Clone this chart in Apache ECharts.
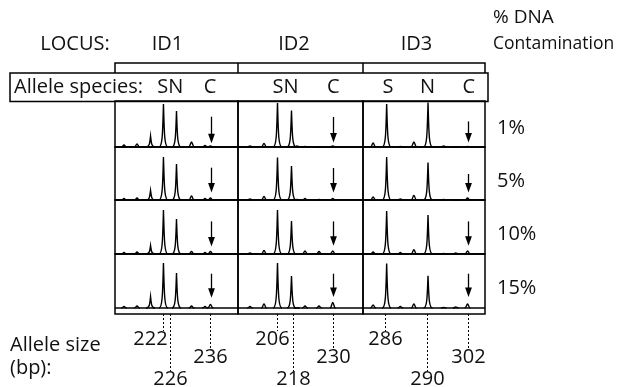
<!DOCTYPE html>
<html>
<head>
<meta charset="utf-8">
<title>Allele species vs DNA contamination</title>
<script src="https://cdn.jsdelivr.net/npm/echarts@6/dist/echarts.min.js"></script>
<style>
html,body{margin:0;padding:0;background:#fff;}
#main{width:619px;height:387px;}
</style>
</head>
<body>
<div id="main"></div>
<script>
var loci = ['ID1', 'ID2', 'ID3'];
var contamination = ['1%', '5%', '10%', '15%'];
var speciesLabels = [['SN', 'C'], ['SN', 'C'], ['S', 'N', 'C']];
var speciesPos = [[45, 77.2], [38, 76.2], [20.4, 52.9, 86.8]];

// peak positions along the run window (0-100) and heights for 1/5/10/15 %
var id1Pos = [7.3, 17.9, 28.9, 39.4, 50.0, 62.2, 73.2, 77.6];
var id1Height = [
  [2, 3, 11, 43, 36, 5, 1.5, 1],
  [1.5, 2, 9.5, 43, 36, 4, 1.5, 2],
  [1.5, 2, 8.5, 44, 35, 2.5, 1.5, 2.5],
  [1.5, 2, 11.5, 45, 35, 2, 1.5, 3.5]
];
var id2Pos = [9.6, 20.8, 31.6, 42.8, 47.2, 53.6, 64.8, 75.8];
var id2Height = [
  [1, 3.5, 44, 36.5, 1, 0.5, 0, 1],
  [1, 3.5, 42.5, 34, 0.5, 1.5, 0.5, 1.5],
  [1, 3.5, 44, 33, 0, 3, 2.5, 3],
  [1.5, 4, 45, 32, 0, 2, 2, 5.5]
];
var id3Pos = [8.3, 19.4, 30.6, 41.7, 53.3, 66.1, 76.0, 85.7];
var id3Height = [
  [4, 43, 0.5, 5, 44.5, 1, 0, 0.5],
  [3, 43, 1, 4.5, 37.5, 0.5, 0, 2],
  [2, 43, 1.5, 4.3, 39, 0.5, 1, 3],
  [3, 44.5, 1.5, 4, 32.3, 0.5, 1, 4]
];

// contamination allele arrows (top and tip heights)
var arrowPos = [78.0, 75.8, 85.7];
var arrowTop = [[30.3, 32.3, 32.6, 34.3], [30, 32, 32.6, 34.3], [25.6, 26, 32.6, 34.3]];
var arrowTip = [[3.7, 7.6, 7.6, 10.3], [4.6, 7.6, 8.3, 11], [4.6, 7.6, 8.3, 11]];

// allele sizes (bp) and where they sit in the window
var alleleSizes = [[222, 226, 236], [206, 218, 230], [286, 290, 302]];
var allelePos = [[39.0, 45.1, 77.6], [31.2, 43.6, 75.8], [18.2, 52.6, 85.7]];

var allPos = [id1Pos, id2Pos, id3Pos];
var allHeight = [id1Height, id2Height, id3Height];

// layout
var colLeft = [115, 238, 363], colWidth = [123, 125, 122];
var rowTop = [101, 147, 200, 254], rowHeight = [46, 53, 54, 60];
var rowFloor = [0, 0, 0, -6];
var labelRow = [0, 2, 1];
var labelDx = [[-13, 0, 0], [-5, 0, 0], [0, 0, 0]];
var FONT = '20px "Open Sans"';

function renderPeak(params, api) {
  var b = api.coord([api.value(0), 0]);
  var t = api.coord([api.value(0), api.value(1)]);
  var hp = b[1] - t[1];
  var x = b[0], y0 = b[1], y1 = t[1], d;
  if (hp > 8) {
    var w = 4.5;
    d = 'M' + (x - w) + ' ' + y0 +
      ' C' + (x - w * 0.2) + ' ' + y0 + ' ' + (x - 0.8) + ' ' + (y0 - hp * 0.35) + ' ' + x + ' ' + y1 +
      ' C' + (x + 0.8) + ' ' + (y0 - hp * 0.35) + ' ' + (x + w * 0.2) + ' ' + y0 + ' ' + (x + w) + ' ' + y0;
  } else {
    var s = 2.8;
    d = 'M' + (x - s) + ' ' + y0 +
      ' C' + (x - 1.2) + ' ' + y0 + ' ' + (x - 1) + ' ' + y1 + ' ' + x + ' ' + y1 +
      ' C' + (x + 1) + ' ' + y1 + ' ' + (x + 1.2) + ' ' + y0 + ' ' + (x + s) + ' ' + y0;
  }
  return {type: 'path', shape: {pathData: d}, style: {fill: 'none', stroke: '#000', lineWidth: 1.4}};
}

function renderArrow(params, api) {
  var a = api.coord([api.value(0), api.value(1)]);
  var b = api.coord([api.value(0), api.value(2)]);
  var x = Math.round(a[0]) + 0.5;
  return {type: 'group', children: [
    {type: 'line', shape: {x1: x, y1: a[1], x2: x, y2: b[1] - 8}, style: {stroke: '#000', lineWidth: 1.3}},
    {type: 'polygon', shape: {points: [[x - 3.4, b[1] - 9.5], [x + 3.4, b[1] - 9.5], [x, b[1]]]}, style: {fill: '#000'}}
  ]};
}

function makeMarker(c) {
  return function (params, api) {
    var p = api.coord([api.value(0), rowFloor[3]]);
    var lv = labelRow[params.dataIndex];
    var x = Math.round(p[0]) + 0.5;
    var ends = [17, 35, 57], txt = [25, 43, 65];
    return {type: 'group', children: [
      {type: 'line', shape: {x1: x, y1: p[1], x2: x, y2: p[1] + ends[lv]}, style: {stroke: '#000', lineWidth: 1, lineDash: [2, 2]}},
      {type: 'text', x: x + labelDx[c][params.dataIndex], y: p[1] + txt[lv],
        style: {text: String(api.value(1)), textAlign: 'center', textVerticalAlign: 'middle', font: FONT, fill: '#111'}}
    ]};
  };
}

var grids = [], xAxes = [], yAxes = [], series = [];
for (var r = 0; r < 4; r++) {
  for (var c = 0; c < 3; c++) {
    var gi = grids.length;
    grids.push({left: colLeft[c], top: rowTop[r], width: colWidth[c], height: rowHeight[r],
      show: true, borderColor: '#000', borderWidth: 1.5});
    xAxes.push({type: 'value', gridIndex: gi, min: 0, max: 100, show: false});
    yAxes.push({type: 'value', gridIndex: gi, min: rowFloor[r], max: rowFloor[r] + rowHeight[r], show: false});
    // flat trace baseline
    series.push({
      type: 'line', xAxisIndex: gi, yAxisIndex: gi, symbol: 'none', silent: true,
      lineStyle: {color: '#000', width: 1.4}, data: [[0, 0], [100, 0]]
    });
    series.push({
      type: 'custom', name: loci[c] + ' ' + contamination[r], xAxisIndex: gi, yAxisIndex: gi,
      renderItem: renderPeak, silent: true,
      data: allPos[c].map(function (p, i) { return [p, allHeight[c][r][i]]; })
    });
    series.push({
      type: 'custom', xAxisIndex: gi, yAxisIndex: gi, renderItem: renderArrow, silent: true,
      data: [[arrowPos[c], arrowTop[c][r], arrowTip[c][r]]]
    });
    if (r === 3) {
      series.push({
        type: 'custom', xAxisIndex: gi, yAxisIndex: gi, renderItem: makeMarker(c), silent: true, clip: false,
        data: allelePos[c].map(function (p, i) { return [p, alleleSizes[c][i]]; })
      });
    }
  }
}

function txt(x, y, s, align, font) {
  return {type: 'text', x: x, y: y, silent: true,
    style: {text: s, textAlign: align || 'left', textVerticalAlign: 'middle', font: font || FONT, fill: '#111'}};
}

var graphic = [
  {type: 'polyline', shape: {points: [[115, 73], [115, 63], [485, 63], [485, 73]]}, style: {stroke: '#000', lineWidth: 1.5, fill: 'none'}},
  {type: 'line', shape: {x1: 238, y1: 63, x2: 238, y2: 73}, style: {stroke: '#000', lineWidth: 1.5}},
  {type: 'line', shape: {x1: 363, y1: 63, x2: 363, y2: 73}, style: {stroke: '#000', lineWidth: 1.5}},
  {type: 'rect', shape: {x: 10, y: 73, width: 478, height: 28.5}, style: {stroke: '#000', lineWidth: 1.5, fill: 'none'}},
  txt(75, 44, 'LOCUS:', 'center'),
  txt(493, 18, '% DNA', 'left', '19px "Open Sans"'),
  txt(493, 44, 'Contamination', 'left', '17.5px "Open Sans"'),
  txt(14, 87, 'Allele species:'),
  txt(10, 345, 'Allele size'),
  txt(10, 368, '(bp):')
];
var locusX = [167.5, 294, 416.5];
loci.forEach(function (l, c) {
  graphic.push(txt(locusX[c], 44, l, 'center'));
  speciesLabels[c].forEach(function (s, i) {
    graphic.push(txt(colLeft[c] + speciesPos[c][i] / 100 * colWidth[c], 87, s, 'center'));
  });
});
contamination.forEach(function (p, r) {
  graphic.push(txt(497, rowTop[r] + (r === 0 ? 27 : 34), p));
});

var chart = echarts.init(document.getElementById('main'));
chart.setOption({
  animation: false,
  backgroundColor: '#fff',
  grid: grids,
  xAxis: xAxes,
  yAxis: yAxes,
  series: series,
  graphic: graphic
});
</script>
</body>
</html>
